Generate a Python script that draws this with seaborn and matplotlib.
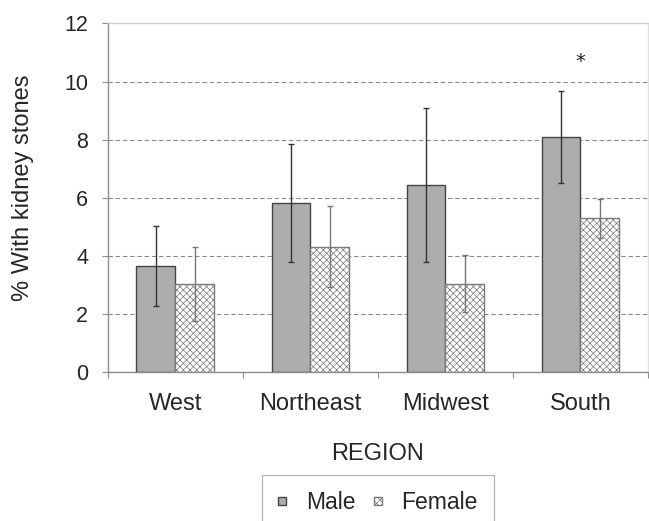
import matplotlib
matplotlib.use("Agg")
import matplotlib.pyplot as plt
import numpy as np
import pandas as pd
import seaborn as sns

# values
regions = ['West', 'Northeast', 'Midwest', 'South']
male = [3.65, 5.83, 6.45, 8.10]
male_lo = [2.28, 3.78, 3.79, 6.50]
male_hi = [5.03, 7.86, 9.08, 9.69]
female = [3.03, 4.32, 3.03, 5.29]
female_lo = [1.75, 2.92, 2.07, 4.62]
female_hi = [4.32, 5.73, 4.03, 5.96]
sig_region = ['South']
sig_height = [10.7]

sns.set_style('white')
plt.rcParams['font.family'] = ['Liberation Sans', 'DejaVu Sans']
plt.rcParams['hatch.linewidth'] = 0.5

df = pd.DataFrame({
    'region': regions * 2,
    'sex': ['Male'] * len(regions) + ['Female'] * len(regions),
    'pct': male + female,
})

fig = plt.figure(figsize=(6.49, 5.21), dpi=100)
ax = fig.add_axes([0.166, 0.286, 0.8325, 0.669])

sns.barplot(data=df, x='region', y='pct', hue='sex', order=regions,
            hue_order=['Male', 'Female'],
            palette={'Male': '#adadad', 'Female': 'white'},
            width=0.575, gap=0, errorbar=None, legend=False,
            edgecolor='#444444', linewidth=1, ax=ax)

male_bars, female_bars = ax.containers[0], ax.containers[1]
for p in female_bars.patches:
    p.set_hatch('xxxxx')
    p.set_edgecolor('#7a7a7a')

# confidence intervals
series = [(male_bars, male, male_lo, male_hi, '#333333'),
          (female_bars, female, female_lo, female_hi, '#777777')]
for bars, vals, lo, hi, col in series:
    xs = [p.get_x() + p.get_width() / 2 for p in bars.patches]
    v = np.array(vals)
    yerr = [v - np.array(lo), np.array(hi) - v]
    ax.errorbar(xs, v, yerr=yerr, fmt='none', ecolor=col,
                elinewidth=1, capsize=2.5, capthick=1, zorder=5)

# significance marker
for r, h in zip(sig_region, sig_height):
    ax.text(regions.index(r), h, '*', ha='center', va='center',
            fontsize=14, family='DejaVu Sans', color='#222222')

ax.set_xlim(-0.5, len(regions) - 0.5)
ax.set_ylim(0, 12)
ax.set_yticks(np.arange(0, 13, 2))
ax.set_axisbelow(True)
ax.yaxis.grid(True, color='#8a8a8a', linestyle=(0, (4, 2.5)), linewidth=0.8)
ax.xaxis.grid(False)
# no gridline on the top border
ax.yaxis.get_gridlines()[-1].set_visible(False)

ax.set_xticks(np.arange(-0.5, len(regions)), minor=True)
ax.tick_params(axis='x', which='major', length=0, pad=15, labelsize=17)
ax.tick_params(axis='x', which='minor', length=4, width=0.8,
               color='#8c8c8c', direction='out', bottom=True)
ax.tick_params(axis='y', length=4, width=0.8, color='#8c8c8c',
               direction='out', left=True, pad=10, labelsize=15.5)

ax.set_xlabel('REGION', fontsize=17, labelpad=20)
ax.set_ylabel('% With kidney stones', fontsize=17)
ax.yaxis.set_label_coords(-0.136, 0.53)

for side, col in [('left', '#8c8c8c'), ('bottom', '#8c8c8c'),
                  ('top', '#cfcfcf'), ('right', '#e0e0e0')]:
    ax.spines[side].set_visible(True)
    ax.spines[side].set_color(col)
    ax.spines[side].set_linewidth(1)

handles = [male_bars.patches[0], female_bars.patches[0]]
leg = fig.legend(handles, ['Male', 'Female'], loc='upper center',
                 bbox_to_anchor=(378 / 649, 1 - 475 / 521), ncol=2,
                 fontsize=16.5, frameon=True, fancybox=False,
                 edgecolor='#999999', borderpad=0.7, borderaxespad=0,
                 handlelength=0.36, handleheight=0.16,
                 handletextpad=0.85, columnspacing=0.8)
leg.get_frame().set_linewidth(0.8)

fig.savefig('out.png', dpi=100)
plt.close(fig)
